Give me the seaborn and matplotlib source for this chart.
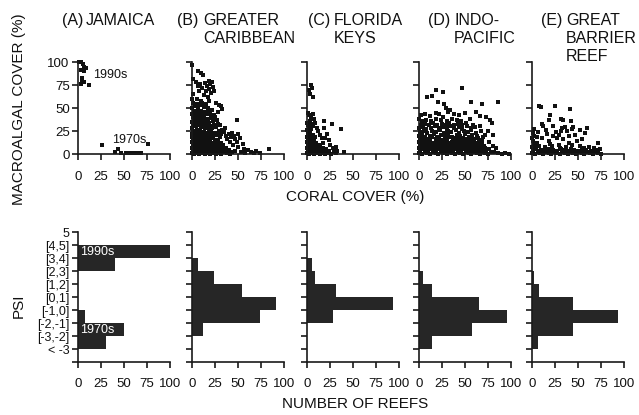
import numpy as np
import pandas as pd
import matplotlib
matplotlib.use("Agg")
import matplotlib.pyplot as plt
import seaborn as sns

# panel titles
letters = ["(A)", "(B)", "(C)", "(D)", "(E)"]
regions = [["JAMAICA"], ["GREATER", "CARIBBEAN"], ["FLORIDA", "KEYS"],
           ["INDO-", "PACIFIC"], ["GREAT", "BARRIER", "REEF"]]

# (coral cover %, macroalgal cover %)
jamaica_pts = [(1, 100), (3, 100), (5, 98), (7, 95), (9, 93), (3, 91), (6, 90),
               (4, 83), (4, 80), (6, 78), (3, 76), (12, 75),
               (26, 10), (44, 5), (40, 2), (47, 1), (52, 1), (56, 1), (61, 1),
               (65, 1), (69, 1), (76, 11)]

carib_pts = [(0, 97), (1, 82), (7, 90), (10, 88), (12, 86), (4, 78), (6, 74), (9, 76),
             (11, 72), (14, 77), (16, 74), (18, 79), (20, 76), (22, 78), (19, 71), (23, 73),
             (15, 68), (21, 66), (8, 69), (13, 64), (17, 62), (24, 68), (5, 60), (10, 58),
             (19, 58), (26, 55), (29, 53), (31, 52), (33, 49), (28, 46),
             (1, 55), (3, 52), (5, 54), (7, 50), (9, 53), (11, 55), (13, 51), (15, 54),
             (17, 50), (2, 47), (4, 44), (6, 48), (8, 45), (10, 47), (12, 44), (14, 46),
             (16, 43), (18, 46), (20, 44), (22, 48), (24, 42), (1, 40), (3, 38), (5, 41),
             (7, 37), (9, 40), (11, 36), (13, 39), (15, 35), (17, 38), (19, 34), (21, 39),
             (23, 36), (25, 40), (27, 37), (2, 33), (4, 30), (6, 34), (8, 31), (10, 29),
             (12, 32), (14, 28), (16, 31), (18, 27), (20, 30), (22, 28), (24, 32), (26, 29),
             (28, 33), (30, 31), (0, 28), (1, 25), (3, 22), (5, 26), (7, 23), (9, 25),
             (11, 21), (13, 24), (15, 20), (17, 23), (19, 21), (21, 24), (23, 20), (25, 23),
             (27, 21), (29, 25), (31, 22), (33, 26), (35, 24), (37, 20), (36, 28), (40, 22),
             (42, 18), (44, 23), (46, 20), (49, 37), (47, 16), (50, 22), (52, 17), (38, 16),
             (41, 13),
             (0, 1), (2, 0), (4, 2), (6, 1), (8, 0), (10, 2), (12, 1), (14, 0), (16, 2),
             (18, 1), (20, 0), (22, 2), (24, 1), (26, 0), (28, 2), (30, 1), (32, 0), (35, 2),
             (38, 1), (41, 0), (44, 2),
             (1, 4), (3, 5), (5, 3), (7, 4), (9, 5), (11, 3), (13, 4), (15, 5), (17, 3),
             (19, 4), (21, 5), (23, 3), (25, 4), (27, 5), (29, 3), (31, 4), (34, 5), (37, 3),
             (40, 4),
             (0, 7), (2, 8), (4, 6), (6, 7), (8, 8), (10, 6), (12, 7), (14, 8), (16, 6),
             (18, 7), (20, 8), (22, 6), (24, 7), (26, 8), (28, 6), (31, 7), (34, 8), (37, 6),
             (1, 10), (3, 11), (5, 9), (7, 10), (9, 11), (11, 9), (13, 10), (15, 11), (17, 9),
             (19, 10), (21, 11), (23, 9), (25, 10), (28, 11), (31, 9), (34, 10),
             (0, 13), (2, 14), (4, 12), (6, 13), (8, 14), (10, 12), (12, 13), (14, 14),
             (16, 12), (18, 13), (20, 14), (22, 12), (25, 13), (28, 14), (32, 12),
             (1, 16), (3, 17), (5, 15), (7, 16), (9, 17), (11, 15), (13, 16), (15, 17),
             (17, 15), (20, 16), (23, 17), (26, 15), (30, 18),
             (0, 19), (2, 20), (4, 18), (6, 19), (8, 20), (10, 18), (12, 19), (14, 20),
             (16, 18), (18, 19), (22, 20),
             (0, 35), (0, 44), (0, 50), (1, 30), (0, 22), (2, 36), (1, 42), (0, 60), (1, 65),
             (47, 3), (50, 8), (53, 2), (56, 5), (58, 1), (61, 4), (64, 2), (67, 1), (70, 3),
             (74, 1), (84, 5), (45, 10), (49, 13), (55, 11)]

florida_pts = [(4, 75), (5, 72), (3, 65), (6, 62), (2, 70),
               (1, 45), (2, 42), (4, 40), (6, 44), (8, 38), (3, 36), (5, 33), (9, 34),
               (7, 30), (11, 28), (19, 36), (27, 33), (37, 27), (18, 28), (14, 21), (16, 17),
               (20, 17), (24, 15), (25, 10), (31, 8), (13, 8), (9, 12), (40, 2), (22, 22),
               (12, 25), (17, 12), (28, 6), (21, 5), (33, 3),
               (0, 1), (2, 0), (4, 2), (6, 1), (8, 0), (10, 2), (12, 1), (14, 0), (16, 2),
               (18, 1), (20, 0), (23, 1), (26, 0), (29, 2), (32, 1),
               (1, 4), (3, 5), (5, 3), (7, 4), (9, 5), (11, 3), (13, 4), (15, 5), (18, 3),
               (21, 4), (24, 3),
               (0, 7), (2, 8), (4, 6), (6, 7), (8, 8), (10, 6), (12, 7), (14, 8), (17, 7),
               (1, 10), (3, 11), (5, 9), (7, 10), (9, 11), (11, 9), (13, 10),
               (0, 13), (2, 14), (4, 12), (6, 13), (8, 14), (10, 12),
               (1, 16), (3, 17), (5, 15), (7, 16), (9, 18),
               (0, 19), (2, 20), (4, 18), (6, 21),
               (1, 22), (3, 24), (0, 26), (2, 28), (1, 31), (3, 30), (0, 34), (4, 27)]

indo_pts = [(0, 1), (3, 0), (6, 2), (9, 1), (12, 0), (15, 2), (18, 1), (21, 0), (24, 2),
            (27, 1), (30, 0), (33, 2), (36, 1), (39, 0), (42, 2), (45, 1), (48, 0), (51, 2),
            (54, 1), (57, 0), (60, 2), (63, 1), (66, 0), (69, 2), (72, 1), (75, 0), (78, 2),
            (1, 4), (4, 5), (7, 3), (10, 4), (13, 5), (16, 3), (19, 4), (22, 5), (25, 3),
            (28, 4), (31, 5), (34, 3), (37, 4), (40, 5), (43, 3), (46, 4), (49, 5), (52, 3),
            (55, 4), (58, 5), (61, 3), (64, 4), (67, 5), (70, 3), (73, 4), (76, 5),
            (0, 7), (3, 8), (6, 6), (9, 7), (12, 8), (15, 6), (18, 7), (21, 8), (24, 6),
            (27, 7), (30, 8), (33, 6), (36, 7), (39, 8), (42, 6), (45, 7), (48, 8), (51, 6),
            (54, 7), (57, 8), (60, 6), (63, 7), (66, 8), (69, 6), (72, 7),
            (1, 10), (4, 11), (7, 9), (10, 10), (13, 11), (16, 9), (19, 10), (22, 11),
            (25, 9), (28, 10), (31, 11), (34, 9), (37, 10), (40, 11), (43, 9), (46, 10),
            (49, 11), (52, 9), (55, 10), (58, 11), (61, 9), (64, 10), (68, 11), (71, 9),
            (0, 13), (3, 14), (6, 12), (9, 13), (12, 14), (15, 12), (18, 13), (21, 14),
            (24, 12), (27, 13), (30, 14), (33, 12), (36, 13), (39, 14), (42, 12), (45, 13),
            (48, 14), (51, 12), (54, 13), (57, 14), (61, 12), (65, 13),
            (1, 16), (4, 17), (8, 15), (11, 16), (14, 18), (18, 16), (22, 17), (25, 15),
            (29, 16), (33, 18), (37, 16), (40, 17), (44, 15), (48, 17), (52, 16), (56, 18),
            (60, 16), (64, 17), (69, 15),
            (0, 20), (3, 21), (7, 19), (12, 20), (16, 22), (20, 19), (24, 21), (28, 20),
            (32, 22), (36, 19), (41, 21), (45, 20), (50, 22), (54, 19), (58, 21), (63, 20),
            (72, 21), (80, 21),
            (1, 24), (5, 25), (9, 23), (14, 25), (19, 24), (23, 26), (27, 23), (31, 25),
            (35, 24), (40, 26), (44, 23), (49, 25), (53, 24), (57, 26), (62, 23), (67, 25),
            (0, 28), (4, 29), (8, 27), (13, 28), (17, 30), (22, 28), (26, 29), (30, 27),
            (34, 30), (38, 28), (43, 29), (47, 27), (52, 30), (56, 28), (61, 29),
            (2, 32), (6, 33), (11, 31), (15, 34), (20, 32), (25, 33), (29, 31), (33, 34),
            (38, 32), (42, 33), (47, 31), (51, 34), (59, 32),
            (0, 38), (3, 36), (8, 37), (13, 36), (18, 38), (24, 37), (30, 36), (36, 38),
            (41, 37), (46, 36), (55, 38), (73, 40), (77, 37), (79, 34),
            (2, 42), (6, 44), (12, 41), (18, 45), (22, 43), (26, 40), (31, 46), (34, 48),
            (29, 50), (27, 54), (21, 57), (14, 63), (9, 62), (18, 70), (26, 67), (47, 72),
            (57, 57), (69, 54), (86, 57), (38, 44), (44, 42), (50, 45), (62, 46), (66, 41),
            (82, 2), (86, 1), (90, 0), (94, 1), (98, 0), (80, 9), (84, 6), (76, 13),
            (70, 18), (75, 25), (66, 30)]

gbr_pts = [(0, 1), (3, 0), (6, 2), (9, 1), (12, 0), (15, 2), (18, 1), (21, 0), (24, 2),
           (27, 1), (30, 0), (33, 2), (36, 1), (39, 0), (42, 2), (45, 1), (48, 0), (51, 2),
           (54, 1), (57, 0), (60, 2), (63, 1), (66, 0), (69, 2), (72, 1), (75, 0),
           (1, 4), (4, 5), (7, 3), (10, 4), (14, 3), (19, 5), (23, 4), (27, 3), (31, 5),
           (35, 4), (38, 3), (42, 5), (46, 4), (50, 3), (54, 5), (59, 4), (64, 3), (70, 4),
           (74, 5),
           (0, 8), (2, 11), (1, 14), (3, 7), (0, 17), (2, 20), (4, 9), (5, 12), (1, 23),
           (8, 52), (10, 51), (25, 52), (41, 49), (20, 42), (18, 37), (11, 33), (31, 38),
           (34, 37), (42, 36), (36, 29), (38, 25), (45, 29), (52, 26), (60, 28), (58, 23),
           (47, 21), (33, 28), (31, 25), (23, 30), (23, 20), (15, 26), (16, 22), (7, 24),
           (2, 27), (5, 18), (4, 12), (11, 17), (18, 14), (27, 17), (34, 16), (40, 20),
           (49, 14), (54, 16), (72, 12), (62, 8), (67, 6), (8, 9), (14, 8), (22, 9),
           (29, 10), (37, 8), (44, 10), (30, 7), (52, 9), (57, 7), (12, 30), (26, 24),
           (44, 27), (29, 21), (20, 11), (40, 12)]

# PSI histogram (number of reefs per bin), bins from bottom to top
psi_labels = ["< -3", "[-3,-2]", "[-2,-1]", "[-1,0]", "[0,1]",
              "[1,2]", "[2,3]", "[3,4]", "[4,5]", "5"]
jamaica_psi = [0, 30, 50, 8, 0, 0, 0, 40, 100, 0]
carib_psi = [0, 0, 12, 74, 91, 54, 24, 6, 0, 0]
florida_psi = [0, 0, 0, 28, 94, 31, 9, 5, 0, 0]
indo_psi = [0, 14, 58, 96, 65, 14, 4, 0, 0, 0]
gbr_psi = [0, 6, 45, 93, 45, 8, 2, 0, 0, 0]

scatter_sets = [jamaica_pts, carib_pts, florida_pts, indo_pts, gbr_pts]
psi_sets = [jamaica_psi, carib_psi, florida_psi, indo_psi, gbr_psi]

sns.set_style("ticks")
plt.rcParams["font.family"] = ["Liberation Sans", "DejaVu Sans"]
plt.rcParams["axes.linewidth"] = 1.2
plt.rcParams["axes.edgecolor"] = "#1a1a1a"
plt.rcParams["xtick.color"] = "#1a1a1a"
plt.rcParams["ytick.color"] = "#1a1a1a"
plt.rcParams["text.color"] = "#111111"

W, H = 639, 415
fig = plt.figure(figsize=(W / 100, H / 100), dpi=100)


def fx(px):
    return px / W


def fy(py):
    return 1 - py / H


lefts = [78, 192, 307, 419, 532]
pw = 92
ink = "#262626"
txt = "#111111"

for i in range(5):
    # top row: scatter
    ax = fig.add_axes([fx(lefts[i]), fy(154), pw / W, 92 / H])
    df = pd.DataFrame(scatter_sets[i], columns=["coral", "macro"])
    sns.scatterplot(data=df, x="coral", y="macro", marker="s", s=6.5, color="#111111",
                    linewidth=0, ax=ax, clip_on=False)
    ax.set_xlim(0, 100)
    ax.set_ylim(0, 100)
    ax.set_xticks([0, 25, 50, 75, 100])
    ax.set_yticks([0, 25, 50, 75, 100])
    ax.set_xlabel("")
    ax.set_ylabel("")
    ax.tick_params(axis="x", length=4.5, width=1.2, pad=7.5, labelsize=9.5,
                   labelcolor=txt)
    ax.tick_params(axis="y", length=4.5, width=1.2, pad=1.5, labelsize=9.5,
                   labelcolor=txt)
    if i > 0:
        ax.set_yticklabels([])
    sns.despine(ax=ax)

    # bottom row: PSI histogram
    bx = fig.add_axes([fx(lefts[i]), fy(362), pw / W, 130 / H])
    hist_df = pd.DataFrame({"psi": np.arange(1, 11) - 0.5, "reefs": psi_sets[i]})
    sns.histplot(data=hist_df, y="psi", weights="reefs", binwidth=1, binrange=(0, 10),
                 color=ink, alpha=1, linewidth=0, ax=bx)
    bx.set_xlim(0, 100)
    bx.set_ylim(0, 10)
    bx.set_xticks([0, 25, 50, 75, 100])
    bx.set_yticks(np.arange(0, 11))
    bx.set_xlabel("")
    bx.set_ylabel("")
    bx.tick_params(axis="x", length=4.5, width=1.2, pad=7, labelsize=9.5,
                   labelcolor=txt)
    bx.tick_params(axis="y", length=4.5, width=1.2, pad=1.5, labelsize=9,
                   labelcolor=txt)
    if i == 0:
        bx.set_yticklabels([""] + psi_labels)
    else:
        bx.set_yticklabels([])
    sns.despine(ax=bx)

    if i == 0:
        ax.text(16, 86, "1990s", fontsize=9, va="center", ha="left", color=txt)
        ax.text(37, 15, "1970s", fontsize=9, va="center", ha="left", color=txt)
        bx.text(2, 8.5, "1990s", fontsize=9, va="center", ha="left", color="white")
        bx.text(2, 2.5, "1970s", fontsize=9, va="center", ha="left", color="white")

# panel titles
letter_x = [62, 177, 308, 428, 541]
name_x = [86, 203, 334, 454, 566]
for i in range(5):
    fig.text(fx(letter_x[i]), fy(25), letters[i], fontsize=11.5, va="baseline",
             ha="left", color=txt)
    for j, line in enumerate(regions[i]):
        fig.text(fx(name_x[i]), fy(25 + 18 * j), line, fontsize=11.5, va="baseline",
                 ha="left", color=txt)

fig.text(fx(19), fy(109), "MACROALGAL COVER (%)", rotation=90, fontsize=11,
         ha="center", va="center", color=txt)
fig.text(fx(355), fy(197), "CORAL COVER (%)", fontsize=11, ha="center",
         va="center", color=txt)
fig.text(fx(19), fy(306), "PSI", rotation=90, fontsize=11, ha="center",
         va="center", color=txt)
fig.text(fx(355), fy(404), "NUMBER OF REEFS", fontsize=11, ha="center",
         va="center", color=txt)

fig.savefig("out.png", dpi=100)
